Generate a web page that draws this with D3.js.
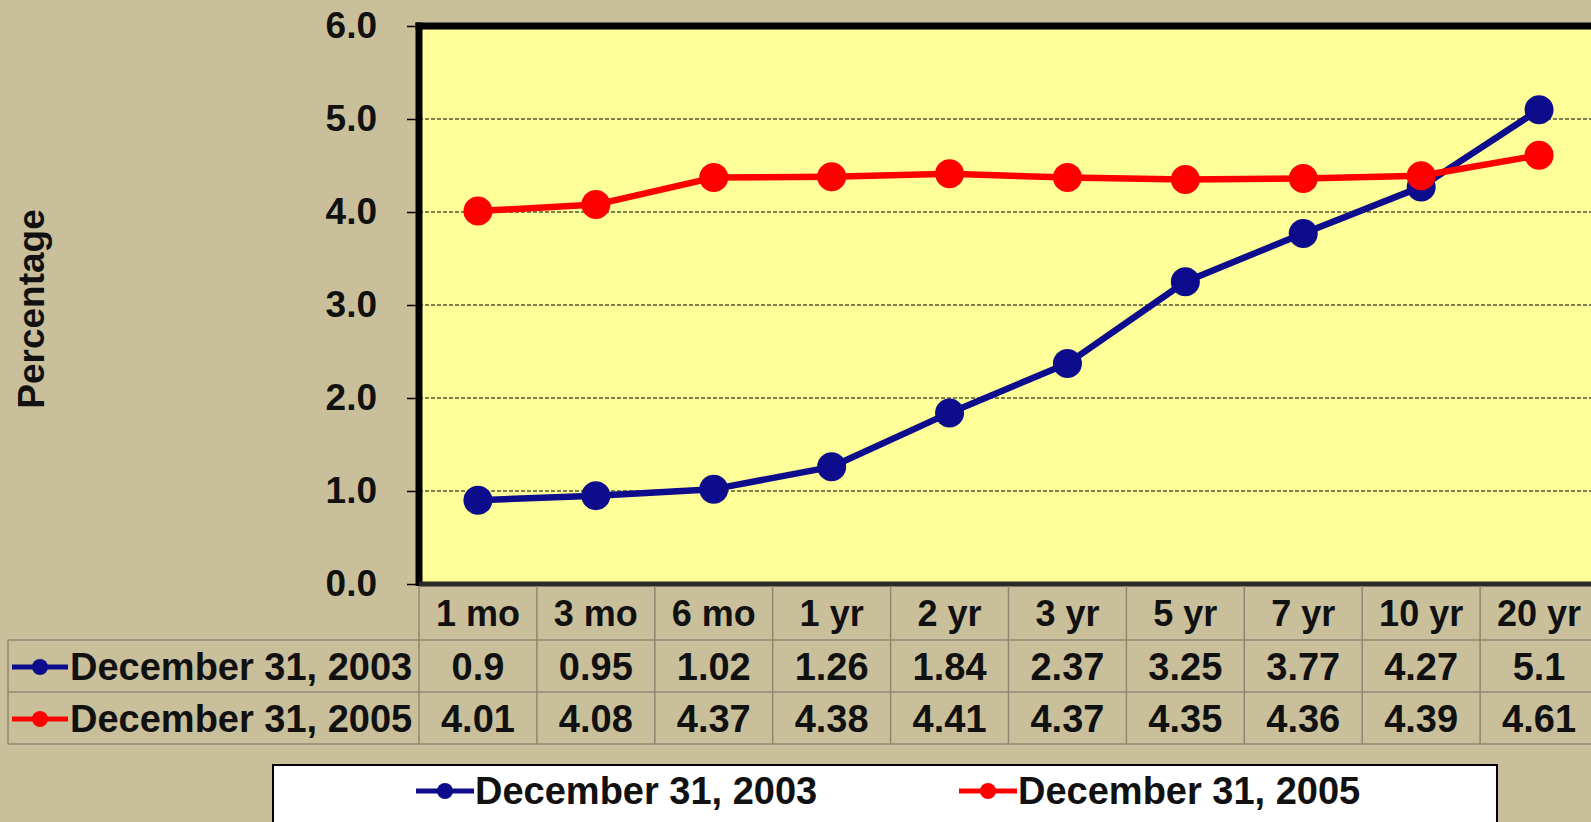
<!DOCTYPE html>
<html><head><meta charset="utf-8">
<script src="https://cdn.jsdelivr.net/npm/d3@7"></script>
<style>
body{margin:0;background:#C9C09B;overflow:hidden}
text{font-family:"Liberation Sans",Arial,sans-serif;font-weight:bold;fill:#111}
</style>
</head><body><svg id="chart" width="1591" height="822"></svg>
<script>
// Treasury yield curve, two year-end snapshots
const maturities = ["1 mo","3 mo","6 mo","1 yr","2 yr","3 yr","5 yr","7 yr","10 yr","20 yr"];
const yields2003 = [0.9,0.95,1.02,1.26,1.84,2.37,3.25,3.77,4.27,5.1];
const yields2005 = [4.01,4.08,4.37,4.38,4.41,4.37,4.35,4.36,4.39,4.61];
const seriesNames = ["December 31, 2003","December 31, 2005"];
const seriesColors = ["#0C0C8C","#FF0000"];
const yTicks = [0,1,2,3,4,5,6];
const yLabel = "Percentage";

const series = [
  {name: seriesNames[0], color: seriesColors[0], values: yields2003},
  {name: seriesNames[1], color: seriesColors[1], values: yields2005}
];

const svg = d3.select("#chart");
const W = 1591, H = 822;
svg.append("rect").attr("width", W).attr("height", H).attr("fill", "#C9C09B");

const plotL = 419, plotR = 1598, plotT = 26, plotB = 584;
const x = d3.scaleBand().domain(maturities).range([plotL, plotR]);
const y = d3.scaleLinear().domain([0, 6]).range([plotB, plotT]);

// plot area
svg.append("rect").attr("x", plotL).attr("y", plotT)
  .attr("width", plotR - plotL + 20).attr("height", plotB - plotT)
  .attr("fill", "#FFFF99");

// dashed gridlines
svg.append("g").selectAll("line").data(yTicks.filter(t => t > 0 && t < 6)).join("line")
  .attr("x1", plotL).attr("x2", W)
  .attr("y1", d => y(d)).attr("y2", d => y(d))
  .attr("stroke", "#000").attr("stroke-width", 1.2).attr("stroke-dasharray", "4,2");

// y axis ticks and labels
const yAxis = d3.axisLeft(y).tickValues(yTicks).tickFormat(d3.format(".1f")).tickSize(10).tickPadding(30);
const gy = svg.append("g").attr("transform", `translate(${plotL - 2},0)`).call(yAxis);
gy.select(".domain").remove();
gy.selectAll(".tick line").attr("stroke", "#000").attr("stroke-width", 1.5);
gy.selectAll(".tick text").attr("font-size", 37).attr("font-family", "'Liberation Sans',Arial,sans-serif")
  .attr("font-weight", "bold").attr("fill", "#111");

// plot frame: heavy left and top, axis line at bottom
svg.append("line").attr("x1", plotL).attr("x2", plotL).attr("y1", plotT - 3.5).attr("y2", plotB + 2)
  .attr("stroke", "#000").attr("stroke-width", 7);
svg.append("line").attr("x1", plotL - 3.5).attr("x2", W).attr("y1", plotT).attr("y2", plotT)
  .attr("stroke", "#000").attr("stroke-width", 7);
svg.append("line").attr("x1", plotL).attr("x2", W).attr("y1", plotB).attr("y2", plotB)
  .attr("stroke", "#2a2a2a").attr("stroke-width", 5);

// axis title
svg.append("text").attr("transform", `translate(44,309) rotate(-90)`)
  .attr("text-anchor", "middle").attr("font-size", 37).text(yLabel);

// series lines and markers
const line = d3.line().x((d, i) => x(maturities[i]) + x.bandwidth() / 2).y(d => y(d));
series.forEach(s => {
  svg.append("path").datum(s.values).attr("d", line)
    .attr("fill", "none").attr("stroke", s.color).attr("stroke-width", 6.5).attr("stroke-linejoin", "round");
  svg.append("g").selectAll("circle").data(s.values).join("circle")
    .attr("cx", (d, i) => x(maturities[i]) + x.bandwidth() / 2)
    .attr("cy", d => y(d)).attr("r", 14.5).attr("fill", s.color);
});

// data table under the axis
const tblL = 8, rowH = [585, 640, 692, 744];
const grid = svg.append("g").attr("stroke", "#8C8872").attr("stroke-width", 1.5);
grid.append("line").attr("x1", tblL).attr("x2", W).attr("y1", rowH[1]).attr("y2", rowH[1]);
grid.append("line").attr("x1", tblL).attr("x2", W).attr("y1", rowH[2]).attr("y2", rowH[2]);
grid.append("line").attr("x1", tblL).attr("x2", W).attr("y1", rowH[3]).attr("y2", rowH[3]);
grid.append("line").attr("x1", tblL).attr("x2", tblL).attr("y1", rowH[1]).attr("y2", rowH[3]);
grid.selectAll(".v").data(maturities).join("line").attr("class", "v")
  .attr("x1", d => x(d)).attr("x2", d => x(d)).attr("y1", rowH[0] + 1).attr("y2", rowH[3]);

svg.append("g").selectAll("text").data(maturities).join("text")
  .attr("x", d => x(d) + x.bandwidth() / 2).attr("y", (rowH[0] + rowH[1]) / 2 + 1)
  .attr("dy", "0.35em").attr("text-anchor", "middle").attr("font-size", 36).text(d => d);

series.forEach((s, k) => {
  const cy = (rowH[k + 1] + rowH[k + 2]) / 2 + 1;
  svg.append("line").attr("x1", 12).attr("x2", 68).attr("y1", cy).attr("y2", cy)
    .attr("stroke", s.color).attr("stroke-width", 5);
  svg.append("circle").attr("cx", 40).attr("cy", cy).attr("r", 8).attr("fill", s.color);
  svg.append("text").attr("x", 70).attr("y", cy).attr("dy", "0.35em").attr("font-size", 38).text(s.name);
  svg.append("g").selectAll("text").data(s.values).join("text")
    .attr("x", (d, i) => x(maturities[i]) + x.bandwidth() / 2).attr("y", cy)
    .attr("dy", "0.35em").attr("text-anchor", "middle").attr("font-size", 38).text(d => d);
});

// legend
svg.append("rect").attr("x", 273).attr("y", 765).attr("width", 1224).attr("height", 80)
  .attr("fill", "#fff").attr("stroke", "#000").attr("stroke-width", 2);
const legendX = [416, 959];
series.forEach((s, k) => {
  const lx = legendX[k], ly = 791;
  svg.append("line").attr("x1", lx).attr("x2", lx + 58).attr("y1", ly).attr("y2", ly)
    .attr("stroke", s.color).attr("stroke-width", 5);
  svg.append("circle").attr("cx", lx + 29).attr("cy", ly).attr("r", 8).attr("fill", s.color);
  svg.append("text").attr("x", lx + 59).attr("y", ly).attr("dy", "0.35em").attr("font-size", 38).text(s.name);
});
</script>
</body></html>
